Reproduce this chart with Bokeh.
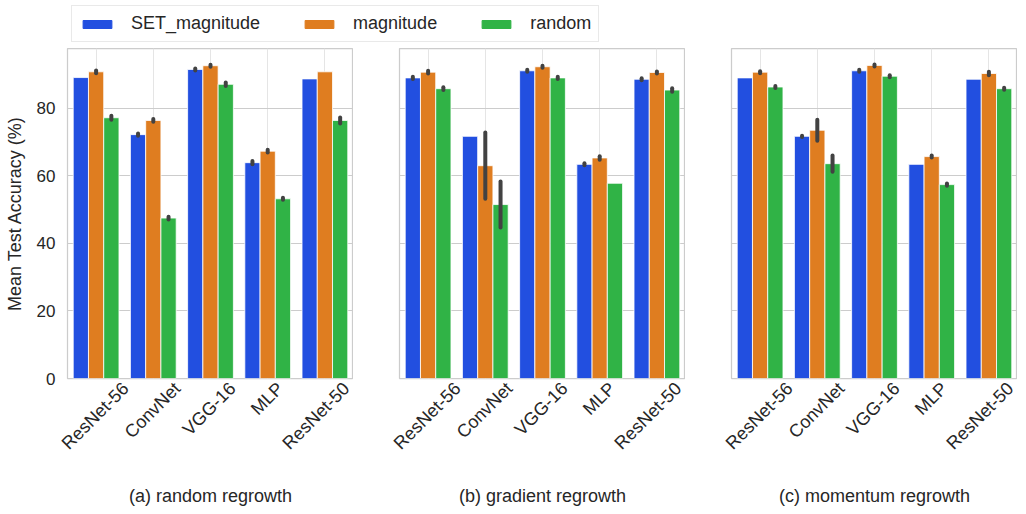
import math
from bokeh.plotting import figure
from bokeh.models import (ColumnDataSource, Range1d, FixedTicker, Legend, LegendItem, LinearAxis)
from bokeh.layouts import column, row
from bokeh.embed import file_html
from bokeh.resources import INLINE

models = ["ResNet-56", "ConvNet", "VGG-16", "MLP", "ResNet-50"]
series_names = ["SET_magnitude", "magnitude", "random"]
panel_titles = ["(a) random regrowth", "(b) gradient regrowth", "(c) momentum regrowth"]
colors = ["#224fe0", "#df7d20", "#30b346"]

# (a) random regrowth
a_set = [89.1, 72.2, 91.5, 63.9, 88.7]
a_mag = [90.8, 76.4, 92.6, 67.3, 90.8]
a_rnd = [77.2, 47.5, 87.1, 53.2, 76.4]
a_set_err = [0.0, 0.3, 0.3, 0.5, 0.0]
a_mag_err = [0.4, 0.4, 0.3, 0.4, 0.0]
a_rnd_err = [0.6, 0.4, 0.5, 0.3, 0.9]

# (b) gradient regrowth
b_set = [89.0, 71.7, 91.1, 63.4, 88.6]
b_mag = [90.7, 63.0, 92.3, 65.3, 90.6]
b_rnd = [85.8, 51.5, 89.0, 57.8, 85.4]
b_set_err = [0.3, 0.0, 0.3, 0.3, 0.3]
b_mag_err = [0.4, 9.8, 0.3, 0.5, 0.3]
b_rnd_err = [0.4, 6.8, 0.3, 0.0, 0.5]

# (c) momentum regrowth
c_set = [89.0, 71.7, 91.1, 63.4, 88.6]
c_mag = [90.7, 73.5, 92.7, 65.7, 90.3]
c_rnd = [86.3, 63.6, 89.5, 57.4, 85.8]
c_set_err = [0.0, 0.2, 0.3, 0.0, 0.0]
c_mag_err = [0.3, 3.1, 0.3, 0.3, 0.5]
c_rnd_err = [0.3, 2.4, 0.3, 0.3, 0.3]

panels = [
    ([a_set, a_mag, a_rnd], [a_set_err, a_mag_err, a_rnd_err]),
    ([b_set, b_mag, b_rnd], [b_set_err, b_mag_err, b_rnd_err]),
    ([c_set, c_mag, c_rnd], [c_set_err, c_mag_err, c_rnd_err]),
]

FONT = "Liberation Sans"
TXT = "#262626"
FRAME_W = 286
bar_w = 0.8 / 3
offsets = [-bar_w, 0.0, bar_w]
# shift (px) so that rotated tick labels are centred under their category
label_shift_px = [29.5, 24, 22, 12.5, 28]

idx = list(range(len(models)))
figs = []
for i, (vals, errs) in enumerate(panels):
    left = 67 if i == 0 else 46
    p = figure(x_range=Range1d(-0.5, len(models) - 0.5), y_range=Range1d(0, 97.7),
               frame_width=FRAME_W, frame_height=330, min_border_left=left, min_border_right=0,
               min_border_top=4, min_border_bottom=124, x_axis_location=None,
               output_backend="svg", toolbar_location=None)
    data = {"model": models}
    for j in range(3):
        data[f"x{j}"] = [k + offsets[j] for k in idx]
        data[f"v{j}"] = vals[j]
        data[f"lo{j}"] = [v - e if e > 0 else float("nan") for v, e in zip(vals[j], errs[j])]
        data[f"hi{j}"] = [v + e if e > 0 else float("nan") for v, e in zip(vals[j], errs[j])]
    src = ColumnDataSource(data)
    for j in range(3):
        p.vbar(x=f"x{j}", top=f"v{j}", width=bar_w, source=src,
               fill_color=colors[j], line_color="white", line_width=0.8)
    for j in range(3):
        p.segment(x0=f"x{j}", y0=f"lo{j}", x1=f"x{j}", y1=f"hi{j}", source=src,
                  line_color="#424242", line_width=4, line_cap="round")

    # category axis (labels rotated 45 deg, centred on each category)
    unit_px = FRAME_W / len(models)
    tick_pos = [k + s / unit_px for k, s in zip(idx, label_shift_px)]
    xax = LinearAxis(ticker=FixedTicker(ticks=tick_pos),
                     major_label_overrides={t: m for t, m in zip(tick_pos, models)})
    p.add_layout(xax, "below")

    p.outline_line_color = "#cccccc"
    p.outline_line_width = 1.25
    p.ygrid.grid_line_color = "#cccccc"
    p.ygrid.grid_line_width = 1
    p.yaxis.ticker = FixedTicker(ticks=[0, 20, 40, 60, 80])
    xax.axis_label = panel_titles[i]
    xax.major_label_orientation = math.pi / 4
    for ax in p.axis:
        ax.axis_line_color = None
        ax.major_tick_line_color = None
        ax.minor_tick_line_color = None
        ax.major_tick_out = 0
        ax.major_tick_in = 0
        ax.minor_tick_out = 0
        ax.minor_tick_in = 0
        ax.major_label_text_font = FONT
        ax.major_label_text_font_size = "17px"
        ax.major_label_text_color = TXT
        ax.axis_label_text_font = FONT
        ax.axis_label_text_font_size = "18px"
        ax.axis_label_text_font_style = "normal"
        ax.axis_label_text_color = TXT
    xax.major_label_text_font_size = "18px"
    xax.major_label_standoff = 7
    xax.axis_label_standoff = 23
    if i == 0:
        p.yaxis.axis_label = "Mean Test Accuracy (%)"
        p.yaxis.major_label_standoff = 12
        p.yaxis.axis_label_standoff = 9
    else:
        p.yaxis.visible = False
    figs.append(p)

# legend strip
total_w = 67 + 46 * 2 + FRAME_W * 3
lf = figure(width=total_w, height=44, x_range=Range1d(0, 1), y_range=Range1d(0, 1),
            x_axis_type=None, y_axis_type=None, output_backend="svg", toolbar_location=None,
            min_border=0, outline_line_color=None)
items = []
for j in range(3):
    r = lf.vbar(x=[5], top=[0.5], width=0.5, fill_color=colors[j], line_color=colors[j])
    items.append(LegendItem(label=series_names[j], renderers=[r]))
leg = Legend(items=items, orientation="horizontal", location=(71, 2),
             glyph_width=36, glyph_height=10, label_standoff=16, spacing=41,
             padding=7, margin=0, label_height=20,
             label_text_font=FONT, label_text_font_size="18px", label_text_color=TXT,
             border_line_color="#d4d4d4", border_line_width=1, background_fill_color="white")
lf.add_layout(leg, "center")

layout = column(lf, row(*figs))
open("out.html", "w").write(file_html(layout, INLINE))
